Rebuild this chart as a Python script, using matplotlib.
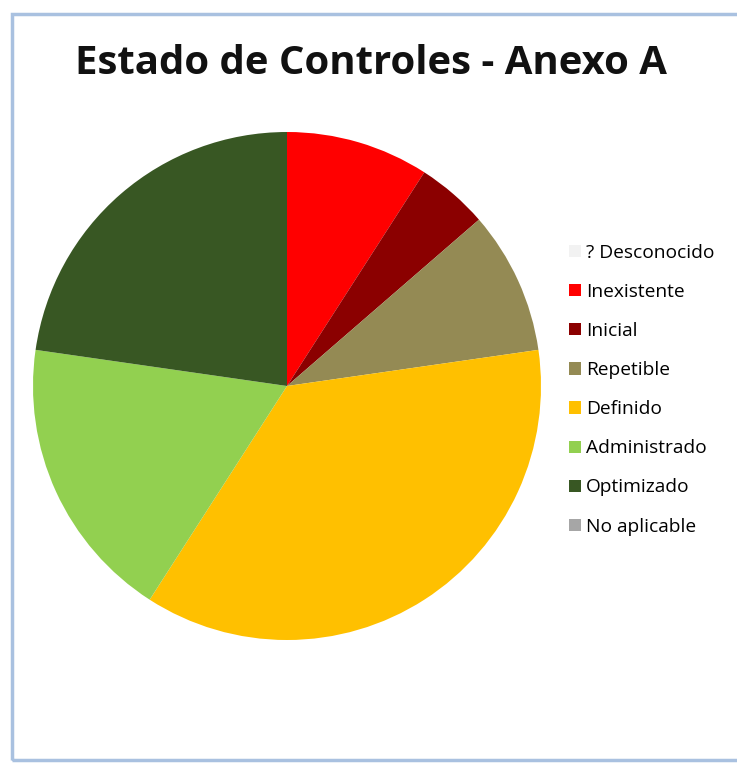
import matplotlib.pyplot as plt
from matplotlib.patches import Rectangle

categories = ["? Desconocido", "Inexistente", "Inicial", "Repetible",
              "Definido", "Administrado", "Optimizado", "No aplicable"]
counts = [0, 2, 1, 2, 8, 4, 5, 0]
colors = ["#f2f2f2", "#ff0000", "#8b0000", "#948a54",
          "#ffc000", "#92d050", "#385723", "#a6a6a6"]

W, H = 737, 763
fig = plt.figure(figsize=(W / 100, H / 100), dpi=100)
fig.patch.set_facecolor("white")

# chart frame
fig.patches.append(Rectangle((12 / W, 1 - 760 / H), 1.0, (760 - 14) / H,
                             transform=fig.transFigure, facecolor="none",
                             edgecolor="#a9c1e0", linewidth=2.5, zorder=0))

cx, cy, r = 287, 386, 254
ax = fig.add_axes([(cx - r) / W, (H - cy - r) / H, 2 * r / W, 2 * r / H])
wedges, _ = ax.pie(counts, colors=colors, startangle=90, counterclock=False,
                   radius=1.0, wedgeprops=dict(linewidth=0))
ax.set_xlim(-1, 1)
ax.set_ylim(-1, 1)
ax.set_aspect("equal")
ax.axis("off")

fig.text(371 / W, 1 - 63 / H, "Estado de Controles - Anexo A",
         ha="center", va="center", fontsize=28.9, fontweight="bold",
         family="Open Sans", color="#111111")

fig.legend(wedges, categories, loc="upper left",
           bbox_to_anchor=(569 / W, 1 - 244 / H), frameon=False,
           prop=dict(family="Open Sans", size=13.8),
           handlelength=0.6, handleheight=0.6, handletextpad=0.3,
           labelspacing=1.1, borderpad=0, borderaxespad=0)

fig.savefig("out.png", dpi=100)
